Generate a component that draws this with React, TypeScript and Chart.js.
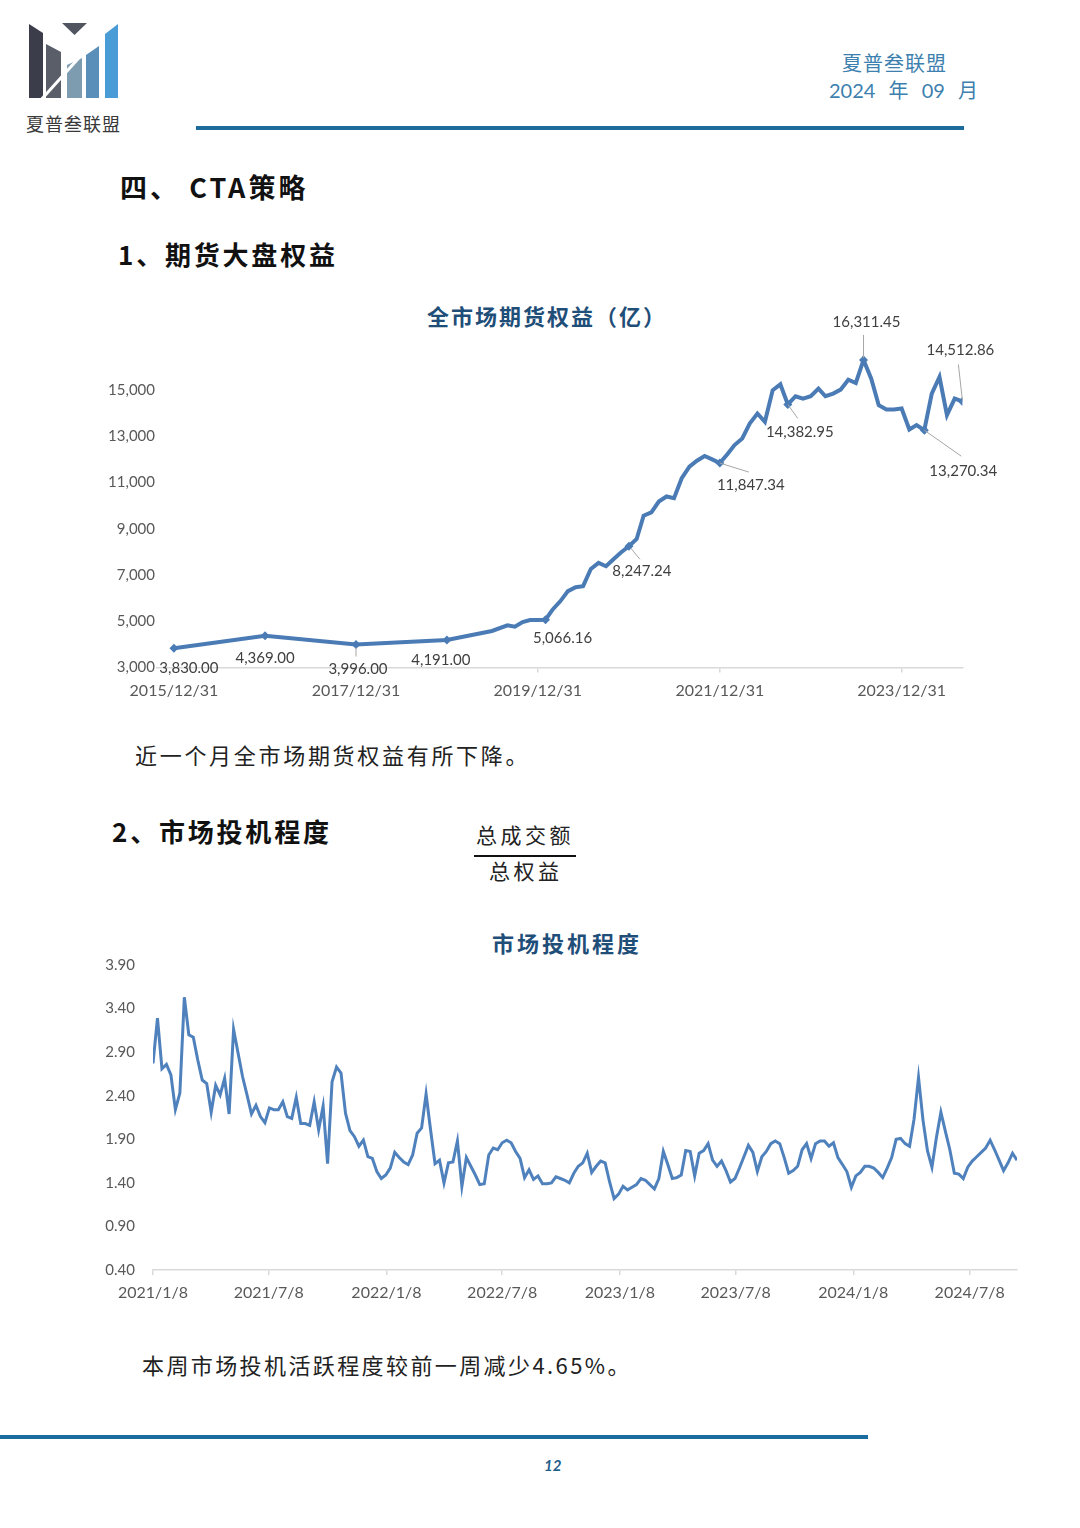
import React, { useEffect, useRef } from "react";
import { Chart, registerables } from "chart.js";
Chart.register(...registerables);

// ---------- Chart 1: 全市场期货权益（亿） ----------
const equityDates = [
  "2015/12/31", "2016/12/31", "2017/12/31", "2018/12/31",
  "2019/6/30", "2019/8/31", "2019/9/30", "2019/10/31", "2019/11/30", "2019/12/31",
  "2020/1/31", "2020/2/29", "2020/3/31", "2020/4/30", "2020/5/31", "2020/6/30", "2020/7/31", "2020/8/31", "2020/9/30", "2020/10/31", "2020/11/30", "2020/12/31",
  "2021/1/31", "2021/2/28", "2021/3/31", "2021/4/30", "2021/5/31", "2021/6/30", "2021/7/31", "2021/8/31", "2021/9/30", "2021/10/31", "2021/11/30", "2021/12/31",
  "2022/1/31", "2022/2/28", "2022/3/31", "2022/4/30", "2022/5/31", "2022/6/30", "2022/7/31", "2022/8/31", "2022/9/30", "2022/10/31", "2022/11/30", "2022/12/31",
  "2023/1/31", "2023/2/28", "2023/3/31", "2023/4/30", "2023/5/31", "2023/6/30", "2023/7/31", "2023/8/31", "2023/9/30", "2023/10/31", "2023/11/30", "2023/12/31",
  "2024/1/31", "2024/2/29", "2024/3/31", "2024/4/30", "2024/5/31", "2024/6/30", "2024/7/31", "2024/8/31",
];
const equityValues = [
  3830.0, 4369.0, 3996.0, 4191.0,
  4580, 4825, 4767, 4968, 5055, 5055,
  5066.16, 5514, 5874, 6305, 6477, 6520, 7267, 7526, 7382, 7698, 7986, 8247.24,
  8560, 9566, 9710, 10184, 10400, 10328, 11190, 11693, 11951, 12152, 12009, 11847.34,
  12239, 12626, 12914, 13560, 13991, 13632, 14997, 15256, 14382.95, 14739, 14638, 14739,
  15069, 14739, 14853, 15026, 15457, 15313, 16311.45, 15500, 14351, 14164, 14164, 14207,
  13302, 13489, 13270.34, 14853, 15572, 13920, 14638, 14512.86,
];
const equityXTicks = ["2015/12/31", "2017/12/31", "2019/12/31", "2021/12/31", "2023/12/31"];
const equityYTicks = [3000, 5000, 7000, 9000, 11000, 13000, 15000];
const equityXMin = "2015/10/24";
const equityXMax = "2024/8/31";

// label placement (styling only): label centre offset and optional leader line
const equityLabelPlacement: Record<string, { dx: number; dy: number; l?: number[] }> = {
  "2015/12/31": { dx: 15, dy: 20 },
  "2016/12/31": { dx: 0, dy: 22 },
  "2017/12/31": { dx: 2, dy: 25, l: [0, 3, 0, 12] },
  "2018/12/31": { dx: -6, dy: 20 },
  "2020/1/31": { dx: 17, dy: 18 },
  "2020/12/31": { dx: 13, dy: 25, l: [2, 2, 11, 13] },
  "2021/12/31": { dx: 31, dy: 22, l: [0, 0, 29, 9] },
  "2022/9/30": { dx: 12, dy: 28, l: [0, 0, 10, 14] },
  "2023/7/31": { dx: 3, dy: -38, l: [0, -2, 0, -25] },
  "2024/3/31": { dx: 39, dy: 41, l: [0, 0, 37, 26] },
  "2024/8/31": { dx: -2, dy: -51, l: [0, -1, -4, -37] },
};

// ---------- Chart 2: 市场投机程度 ----------
const specStartDate = "2021/1/8"; // weekly observations
const specValues = [
  2.77, 3.29, 2.71, 2.76, 2.64, 2.24, 2.43, 3.53, 3.10, 3.07,
  2.81, 2.58, 2.54, 2.21, 2.52, 2.41, 2.60, 2.19, 3.16, 2.89,
  2.62, 2.41, 2.19, 2.29, 2.16, 2.09, 2.26, 2.24, 2.24, 2.33,
  2.16, 2.14, 2.38, 2.08, 2.08, 2.06, 2.33, 2.01, 2.28, 1.62,
  2.56, 2.73, 2.66, 2.20, 2.00, 1.93, 1.82, 1.89, 1.70, 1.68,
  1.53, 1.45, 1.49, 1.57, 1.75, 1.69, 1.64, 1.61, 1.72, 1.97,
  2.03, 2.42, 2.01, 1.62, 1.66, 1.40, 1.63, 1.64, 1.88, 1.36,
  1.69, 1.59, 1.49, 1.38, 1.39, 1.72, 1.80, 1.78, 1.86, 1.89,
  1.86, 1.76, 1.68, 1.46, 1.55, 1.44, 1.48, 1.39, 1.39, 1.40,
  1.47, 1.45, 1.43, 1.40, 1.51, 1.59, 1.63, 1.74, 1.52, 1.59,
  1.65, 1.63, 1.41, 1.22, 1.27, 1.36, 1.32, 1.35, 1.38, 1.45,
  1.43, 1.38, 1.33, 1.45, 1.76, 1.61, 1.45, 1.46, 1.49, 1.77,
  1.76, 1.48, 1.74, 1.77, 1.85, 1.66, 1.59, 1.65, 1.54, 1.41,
  1.45, 1.57, 1.70, 1.83, 1.75, 1.53, 1.70, 1.76, 1.85, 1.88,
  1.85, 1.69, 1.51, 1.54, 1.59, 1.78, 1.85, 1.68, 1.85, 1.88,
  1.88, 1.82, 1.86, 1.69, 1.61, 1.53, 1.35, 1.48, 1.52, 1.59,
  1.59, 1.57, 1.52, 1.46, 1.57, 1.69, 1.90, 1.91, 1.85, 1.82,
  2.13, 2.61, 2.12, 1.77, 1.58, 1.92, 2.21, 1.99, 1.78, 1.51,
  1.50, 1.45, 1.58, 1.65, 1.70, 1.75, 1.80, 1.89, 1.78, 1.66,
  1.54, 1.63, 1.74, 1.66,
];
const specXTicks = ["2021/1/8", "2021/7/8", "2022/1/8", "2022/7/8", "2023/1/8", "2023/7/8", "2024/1/8", "2024/7/8"];
const specYTicks = [0.4, 0.9, 1.4, 1.9, 2.4, 2.9, 3.4, 3.9];

// ---------- helpers ----------
const toDay = (s: string) => {
  const [y, m, d] = s.split("/").map(Number);
  return Math.round(Date.UTC(y, m - 1, d) / 86400000);
};
const fmt2 = (v: number) =>
  v.toLocaleString("en-US", { minimumFractionDigits: 2, maximumFractionDigits: 2 });

const AXIS_FONT = "Lato, 'Open Sans', sans-serif";
const TICK_COLOR = "#595959";
const AXIS_LINE = "#d9d9d9";
const CJK = "'Noto Sans CJK SC', 'Noto Sans', sans-serif";

export default function App() {
  const c1 = useRef<HTMLCanvasElement>(null);
  const c2 = useRef<HTMLCanvasElement>(null);

  useEffect(() => {
    const eqTickMap = new Map(equityXTicks.map((d) => [toDay(d), d]));
    const labelPlugin = {
      id: "eqLabels",
      afterDatasetsDraw(chart: any) {
        const meta = chart.getDatasetMeta(0);
        const ctx = chart.ctx;
        ctx.save();
        ctx.font = `15px ${AXIS_FONT}`;
        ctx.fillStyle = "#404040";
        ctx.textAlign = "center";
        ctx.textBaseline = "middle";
        equityDates.forEach((d, i) => {
          const p = equityLabelPlacement[d];
          if (!p) return;
          const pt = meta.data[i];
          if (p.l) {
            ctx.strokeStyle = "#a6a6a6";
            ctx.lineWidth = 1;
            ctx.beginPath();
            ctx.moveTo(pt.x + p.l[0], pt.y + p.l[1]);
            ctx.lineTo(pt.x + p.l[2], pt.y + p.l[3]);
            ctx.stroke();
          }
          ctx.fillText(fmt2(equityValues[i]), pt.x + p.dx, pt.y + p.dy);
        });
        ctx.restore();
      },
    };

    const chart1 = new Chart(c1.current!, {
      type: "line",
      data: {
        datasets: [
          {
            data: equityDates.map((d, i) => ({ x: toDay(d), y: equityValues[i] })),
            borderColor: "#4a7bb5",
            backgroundColor: "#4a7bb5",
            borderWidth: 4,
            tension: 0,
            pointStyle: "rectRot",
            pointRadius: equityDates.map((d) => (equityLabelPlacement[d] ? 4.5 : 0)),
            pointBorderWidth: 0,
            pointBackgroundColor: "#4a7bb5",
          },
        ],
      },
      options: {
        animation: false,
        responsive: false,
        events: [],
        layout: { padding: { top: 54, right: 57.6, left: 0, bottom: 0 } },
        plugins: { legend: { display: false }, tooltip: { enabled: false }, title: { display: false } },
        scales: {
          x: {
            type: "linear",
            min: toDay(equityXMin),
            max: toDay(equityXMax),
            afterBuildTicks: (s: any) => {
              s.ticks = equityXTicks.map((d) => ({ value: toDay(d) }));
            },
            afterFit: (s: any) => {
              s.height = 42.5;
            },
            ticks: {
              autoSkip: false,
              maxRotation: 0,
              padding: 9,
              color: TICK_COLOR,
              font: { family: AXIS_FONT, size: 16 },
              callback: (v: any) => eqTickMap.get(v) ?? "",
            },
            grid: { drawOnChartArea: false, drawTicks: true, tickLength: 5, color: AXIS_LINE, lineWidth: 1.5 },
            border: { color: AXIS_LINE, width: 1.5 },
          },
          y: {
            type: "linear",
            min: 3000,
            max: 17000,
            afterBuildTicks: (s: any) => {
              s.ticks = equityYTicks.map((v) => ({ value: v }));
            },
            afterFit: (s: any) => {
              s.width = 67;
              s.paddingTop = 0;
              s.paddingBottom = 0;
            },
            ticks: {
              padding: 2,
              color: TICK_COLOR,
              font: { family: AXIS_FONT, size: 15 },
              callback: (v: any) => Number(v).toLocaleString("en-US"),
            },
            grid: { display: false, drawTicks: false },
            border: { display: false },
          },
        },
      },
      plugins: [labelPlugin],
    });

    const specStart = toDay(specStartDate);
    const spTickMap = new Map(specXTicks.map((d) => [toDay(d), d]));
    const chart2 = new Chart(c2.current!, {
      type: "line",
      data: {
        datasets: [
          {
            data: specValues.map((v, i) => ({ x: specStart + i * 7, y: v })),
            borderColor: "#4f81bd",
            borderWidth: 3,
            tension: 0,
            pointRadius: 0,
          },
        ],
      },
      options: {
        animation: false,
        responsive: false,
        events: [],
        layout: { padding: { top: 10, right: 13, left: 0, bottom: 0 } },
        plugins: { legend: { display: false }, tooltip: { enabled: false } },
        scales: {
          x: {
            type: "linear",
            min: specStart,
            max: specStart + (specValues.length - 1) * 7,
            afterBuildTicks: (s: any) => {
              s.ticks = specXTicks.map((d) => ({ value: toDay(d) }));
            },
            afterFit: (s: any) => {
              s.height = 45;
            },
            ticks: {
              autoSkip: false,
              maxRotation: 0,
              padding: 8,
              color: TICK_COLOR,
              font: { family: AXIS_FONT, size: 16 },
              callback: (v: any) => spTickMap.get(v) ?? "",
            },
            grid: { drawOnChartArea: false, drawTicks: true, tickLength: 5, color: AXIS_LINE, lineWidth: 1.5 },
            border: { color: AXIS_LINE, width: 1.5 },
          },
          y: {
            type: "linear",
            min: 0.4,
            max: 3.9,
            afterBuildTicks: (s: any) => {
              s.ticks = specYTicks.map((v) => ({ value: v }));
            },
            afterFit: (s: any) => {
              s.width = 63;
              s.paddingTop = 0;
              s.paddingBottom = 0;
            },
            ticks: {
              padding: 18,
              color: TICK_COLOR,
              font: { family: AXIS_FONT, size: 15 },
              callback: (v: any) => Number(v).toFixed(2),
            },
            grid: { display: false, drawTicks: false },
            border: { display: false },
          },
        },
      },
    });

    return () => {
      chart1.destroy();
      chart2.destroy();
    };
  }, []);

  const abs = (left: number, top: number, extra: React.CSSProperties = {}): React.CSSProperties => ({
    position: "absolute",
    left,
    top,
    whiteSpace: "nowrap",
    lineHeight: 1,
    ...extra,
  });

  const heading: React.CSSProperties = { fontFamily: CJK, fontWeight: 700, color: "#111", fontSize: 26, letterSpacing: 2.8 };
  const body: React.CSSProperties = { fontFamily: CJK, fontWeight: 400, color: "#222", fontSize: 22, letterSpacing: 2.7 };
  const chartTitle: React.CSSProperties = { fontFamily: CJK, fontWeight: 700, color: "#1f4e79", fontSize: 22, letterSpacing: 2 };

  return (
    <div style={{ position: "absolute", left: 0, top: 0, width: 1080, height: 1528, background: "#fff", overflow: "hidden" }}>
      {/* logo */}
      <svg style={{ position: "absolute", left: 0, top: 0 }} width={130} height={110}>
        <polygon points="29,24 43,33 43,98 29,98" fill="#3b3e4a" />
        <polygon points="46,44 61,52 61,98 46,98" fill="#5a5e69" />
        <polygon points="62,23 87,23 74.5,35" fill="#505560" />
        <polygon points="67,65 82,58 82,98 67,98" fill="#7d9cb0" />
        <polygon points="86,55 99,46 99,98 86,98" fill="#5a8fba" />
        <polygon points="105,34 118,24 118,98 105,98" fill="#4a9cd6" />
        <line x1={40} y1={101} x2={86} y2={50} stroke="#fff" strokeWidth={3} />
      </svg>
      <div style={abs(26, 114, { fontFamily: CJK, fontSize: 18, letterSpacing: 1, color: "#3a3a3a" })}>夏普叁联盟</div>

      {/* header right */}
      <div style={abs(842, 53, { fontFamily: CJK, fontSize: 20, letterSpacing: 1, color: "#3d7fae" })}>夏普叁联盟</div>
      <div style={abs(829, 80, { fontFamily: `Lato, ${CJK}`, fontSize: 20, wordSpacing: 8, color: "#3d7fae" })}>2024 年 09 月</div>
      <div style={{ position: "absolute", left: 196, top: 126, width: 768, height: 4, background: "#1d6a9c" }} />

      {/* section headings */}
      <div style={abs(120, 173, { ...heading, fontSize: 27, letterSpacing: 3 })}>四、 CTA策略</div>
      <div style={abs(118, 241, heading)}>1、期货大盘权益</div>

      {/* chart 1 */}
      <div style={abs(427, 304, chartTitle)}>全市场期货权益（亿）</div>
      <canvas ref={c1} width={930} height={420} style={{ position: "absolute", left: 90, top: 290, display: "block" }} />

      <div style={abs(135, 743, body)}>近一个月全市场期货权益有所下降。</div>

      <div style={abs(112, 818, heading)}>2、市场投机程度</div>
      {/* fraction */}
      <div style={abs(476, 824, { ...body, fontSize: 21, letterSpacing: 3.5 })}>总成交额</div>
      <div style={{ position: "absolute", left: 474, top: 855, width: 102, height: 2, background: "#111" }} />
      <div style={abs(489, 860, { ...body, fontSize: 21, letterSpacing: 3.5 })}>总权益</div>

      {/* chart 2 */}
      <div style={abs(492, 931, { ...chartTitle, letterSpacing: 3 })}>市场投机程度</div>
      <canvas ref={c2} width={940} height={360} style={{ position: "absolute", left: 90, top: 955, display: "block" }} />

      <div style={abs(142, 1353, { ...body, letterSpacing: 2.4 })}>本周市场投机活跃程度较前一周减少4.65%。</div>

      {/* footer */}
      <div style={{ position: "absolute", left: 0, top: 1435, width: 868, height: 4, background: "#1b6c9f" }} />
      <div style={abs(544, 1458, { fontFamily: "Lato, sans-serif", fontWeight: 700, fontStyle: "italic", fontSize: 15, color: "#1f5f8b" })}>12</div>
    </div>
  );
}
